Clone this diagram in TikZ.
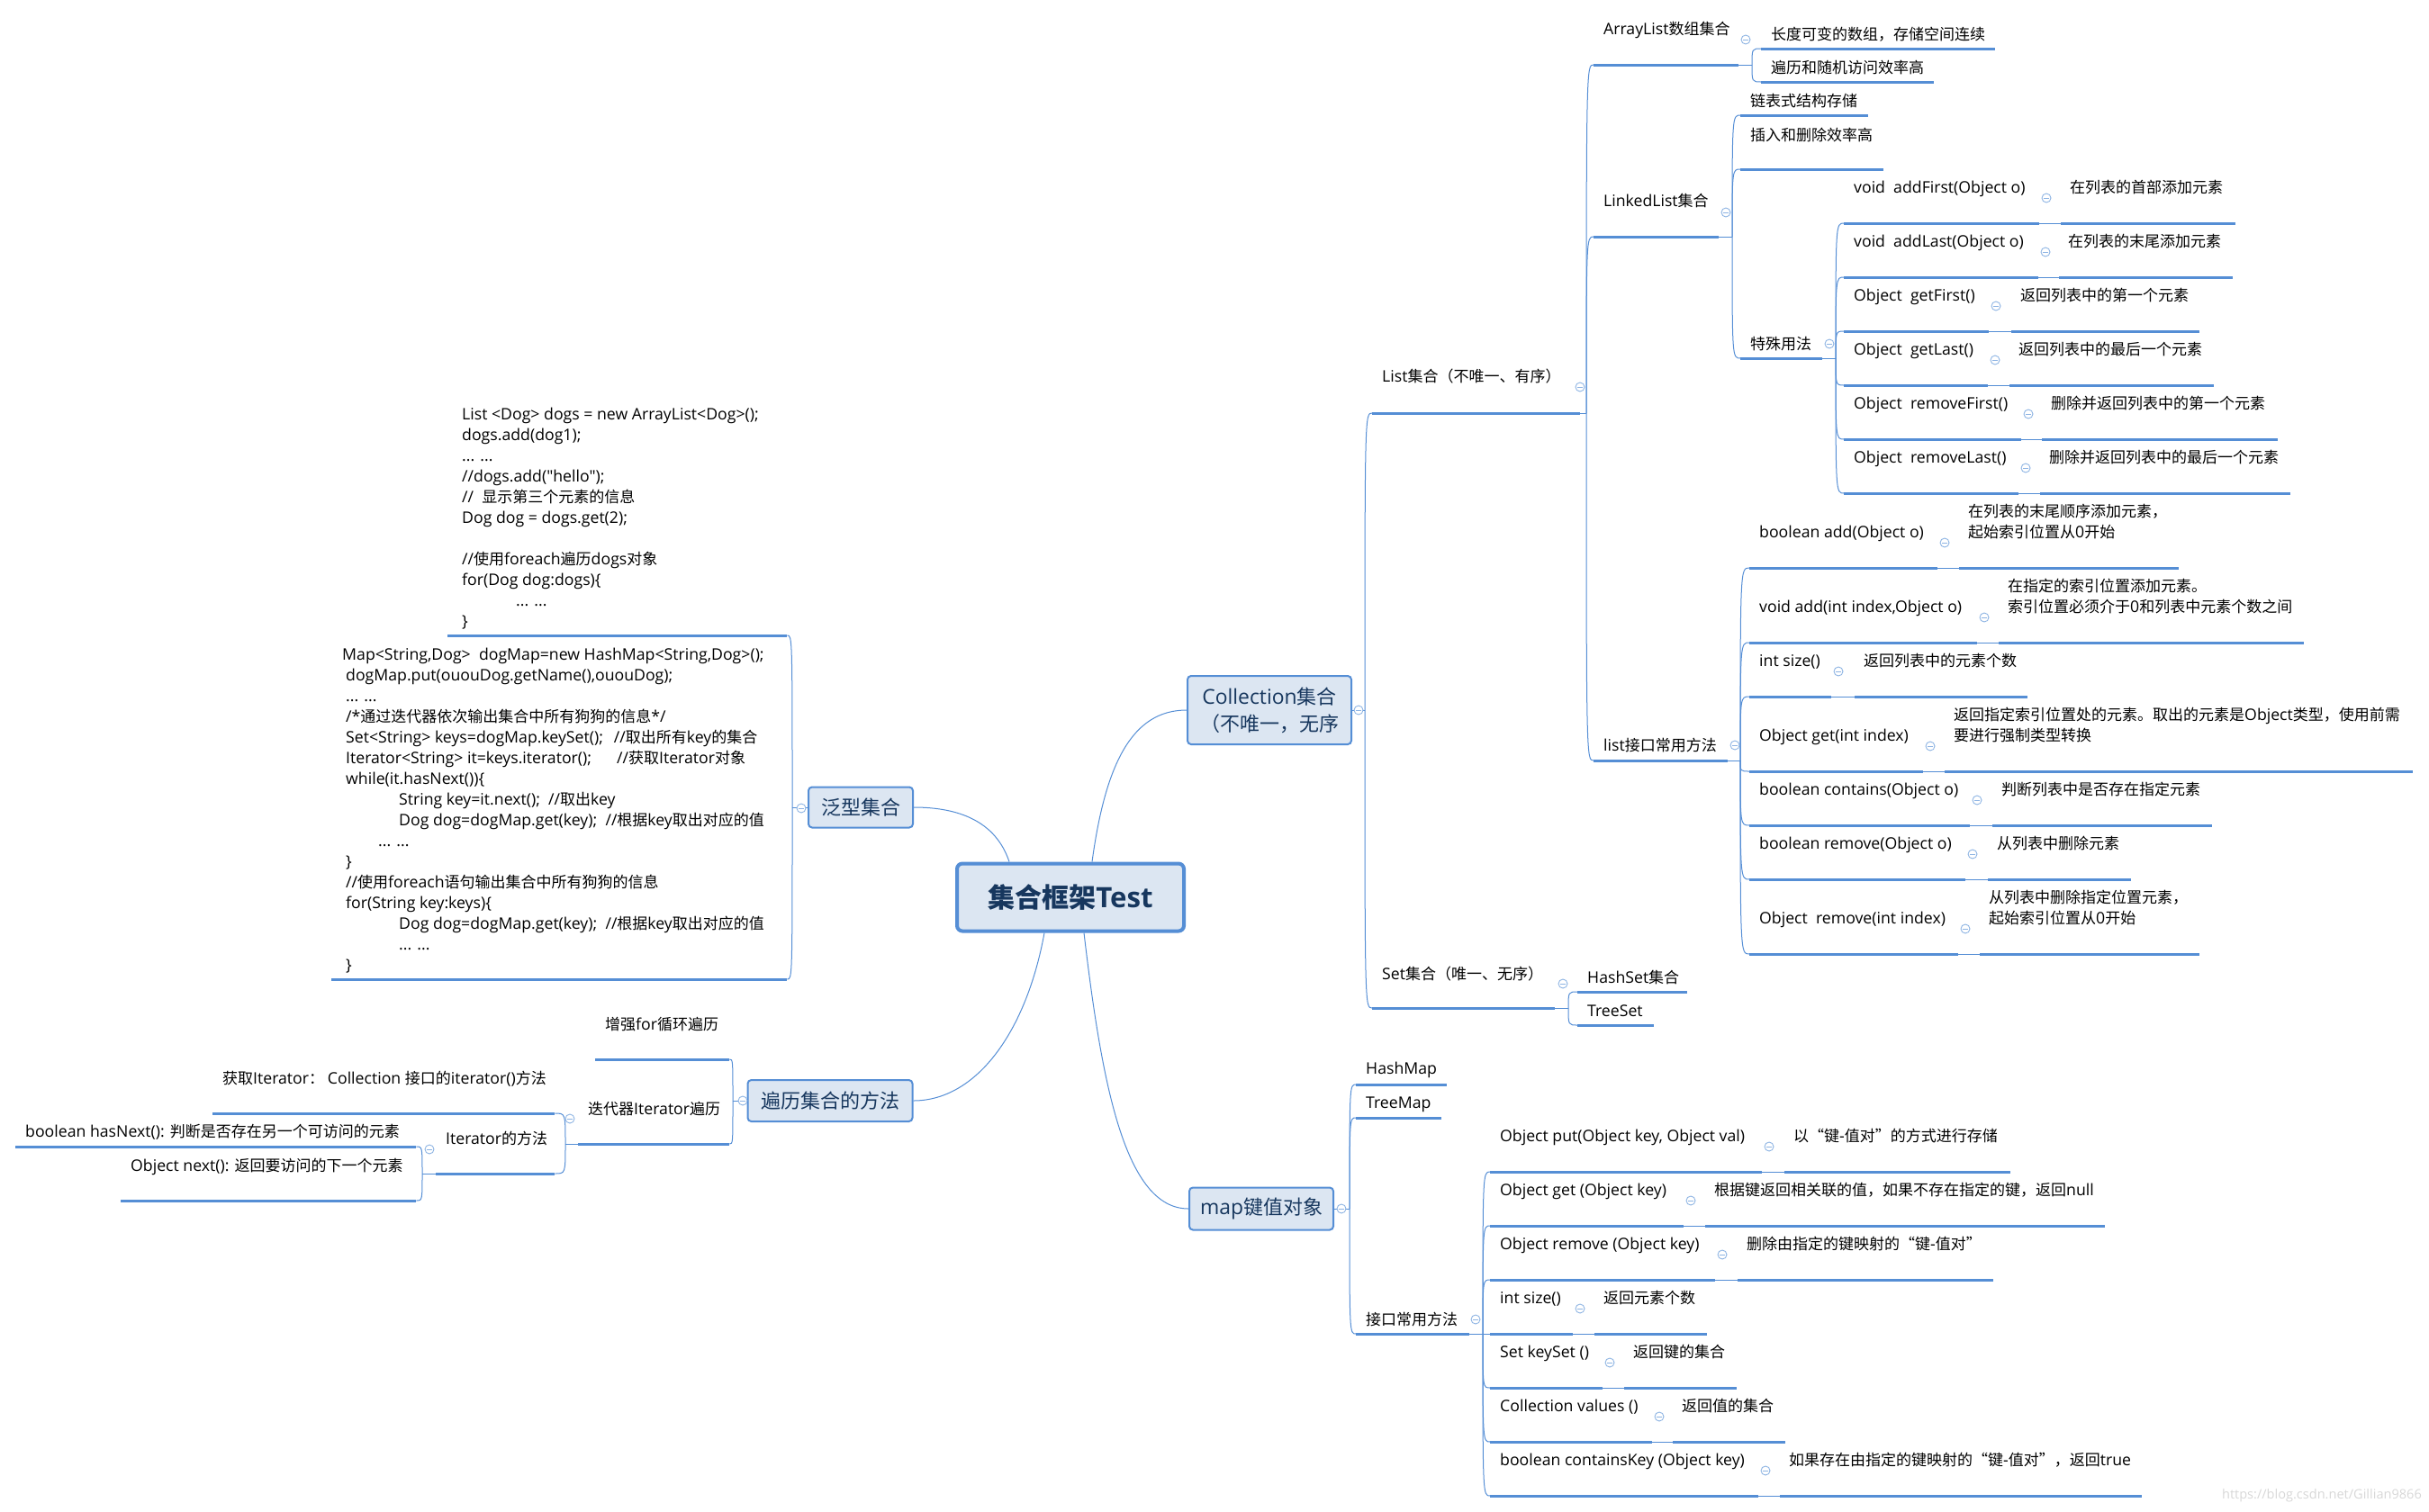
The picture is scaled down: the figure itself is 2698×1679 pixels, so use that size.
\documentclass[tikz,border=0pt]{standalone}
\usepackage{fontspec}
\usepackage{tikz}
\setmainfont{Open Sans}[Scale=1.04]
\newfontfamily\cjkfont{Noto Sans CJK SC}
\newfontfamily\latinfont{Open Sans}[Scale=1.04]

% switch to the CJK font for Chinese characters
\newXeTeXintercharclass\cjkclass
\newcount\cjkcode
\newcommand{\setcjkrange}[2]{%
  \cjkcode=#1
  \loop
    \XeTeXcharclass\cjkcode=\cjkclass
    \advance\cjkcode by 1
  \ifnum\cjkcode<#2 \repeat}
\setcjkrange{"3000}{"3040}
\setcjkrange{"4E00}{"A000}
\setcjkrange{"FF00}{"FFF0}
\XeTeXcharclass"201C=\cjkclass
\XeTeXcharclass"201D=\cjkclass
\XeTeXinterchartoks 0 \cjkclass={\cjkfont}
\XeTeXinterchartoks 4095 \cjkclass={\cjkfont}
\XeTeXinterchartoks \cjkclass 0={\latinfont}
\XeTeXinterchartoks 4095 0={\latinfont}
\XeTeXinterchartokenstate=1

\definecolor{lineblue}{RGB}{85,142,213}
\definecolor{boxfill}{RGB}{220,230,242}
\definecolor{boxtext}{RGB}{23,55,94}
\definecolor{foldblue}{RGB}{142,180,227}
\definecolor{markgray}{RGB}{215,215,215}

\tikzset{
  uline/.style={rectangle, fill=lineblue, inner sep=0pt, minimum height=3pt, anchor=west},
  link/.style={draw=lineblue, line width=1pt},
  topic/.style={anchor=west, inner sep=0pt, font=\fontsize{17}{23}\selectfont},
  mtext/.style={topic, anchor=south west, align=left, text depth=4pt},
  codetext/.style={anchor=north west, inner sep=0pt, align=left, font=\fontsize{17}{23}\selectfont},
  fold/.style={circle, draw=foldblue, line width=0.9pt, fill=white, minimum size=10pt, inner sep=0pt,
    path picture={\draw[foldblue, line width=0.9pt]
      ([xshift=-2.6pt]path picture bounding box.center) -- ([xshift=2.6pt]path picture bounding box.center);}},
  mainbox/.style={draw=lineblue, fill=boxfill, line width=2pt, rounded corners=4pt, text=boxtext,
    font=\fontsize{22}{30}\selectfont, inner sep=0pt, align=center},
  rootbox/.style={mainbox, line width=4pt, rounded corners=6pt, font=\fontsize{30}{36}\selectfont\bfseries},
}

% underlined topic: name, x start, x end, line y, text y, text
\newcommand{\topic}[6]{%
  \node[uline, minimum width={#3-#2}] (#1) at (#2,#4) {};
  \node[topic] (#1-t) at ({#2+11},#5) {#6};
}
% method with its description: name, x start, x end, desc start, desc end, line y, method, desc
\newcommand{\methodrow}[8]{%
  \node[uline, minimum width={#3-#2}] (#1) at (#2,#6) {};
  \node[uline, minimum width={#5-#4}] (#1-d) at (#4,#6) {};
  \node[mtext] (#1-t) at ({#2+11},{#6-29}) {#7};
  \node[mtext] (#1-dt) at ({#4+10},{#6-29}) {#8};
  \draw[link] (#1.east) -- (#1-d.west);
  \node[fold] (#1-f) at ({#3+8},{#6-28}) {};
}

\begin{document}
\begin{tikzpicture}[x=1pt, y=-1pt]
  \useasboundingbox (0,0) rectangle (2698,1679);

  % central topic and main branches
  \node[rootbox, minimum width=252pt, minimum height=75pt] (root) at (1189,997) {集合框架Test};
  \node[mainbox, minimum width=182pt, minimum height=76pt] (coll) at (1410,789) {Collection集合\\（不唯一，无序};
  \node[mainbox, minimum width=116pt, minimum height=45pt] (fx) at (956,897) {泛型集合};
  \node[mainbox, minimum width=183pt, minimum height=46pt] (bl) at (922,1223) {遍历集合的方法};
  \node[mainbox, minimum width=160pt, minimum height=47pt] (map) at (1401,1343) {map键值对象};

  \draw[link] ([xshift=24pt]root.north) .. controls +(15,-110) and +(-60,0) .. (coll.west);
  \draw[link] ([xshift=-68pt]root.north) .. controls +(-15,-45) and +(50,0) .. (fx.east);
  \draw[link] ([xshift=-29pt]root.south) .. controls +(-20,110) and +(70,0) .. (bl.east);
  \draw[link] ([xshift=15pt]root.south) .. controls +(20,170) and +(-70,0) .. (map.west);

  % Collection
  \topic{list}{1524}{1755}{459}{418}{List集合（不唯一、有序）}
  \topic{set}{1524}{1727}{1120}{1082}{Set集合（唯一、无序）}
  \topic{al}{1770}{1931}{72}{33}{ArrayList数组集合}
  \topic{al1}{1956}{2216}{54}{38}{长度可变的数组，存储空间连续}
  \topic{al2}{1956}{2148}{91}{75}{遍历和随机访问效率高}
  \topic{ll}{1770}{1909}{263}{223}{LinkedList集合}
  \topic{ll1}{1933}{2075}{128}{112}{链表式结构存储}
  \topic{ll2}{1933}{2092}{188}{150}{插入和删除效率高}
  \topic{ts}{1933}{2024}{398}{382}{特殊用法}
  \topic{li}{1770}{1919}{845}{828}{list接口常用方法}
  \topic{hs}{1752}{1874}{1102}{1086}{HashSet集合}
  \topic{tset}{1752}{1837}{1139}{1123}{TreeSet}

  % special methods of LinkedList
  \methodrow{m1}{2048}{2265}{2289}{2483}{248}{void\ \ addFirst(Object o)}{在列表的首部添加元素}
  \methodrow{m2}{2048}{2264}{2287}{2480}{308}{void\ \ addLast(Object o)}{在列表的末尾添加元素}
  \methodrow{m3}{2048}{2209}{2234}{2443}{368}{Object\ \ getFirst()}{返回列表中的第一个元素}
  \methodrow{m4}{2048}{2208}{2232}{2459}{428}{Object\ \ getLast()}{返回列表中的最后一个元素}
  \methodrow{m5}{2048}{2245}{2268}{2530}{488}{Object\ \ removeFirst()}{删除并返回列表中的第一个元素}
  \methodrow{m6}{2048}{2242}{2266}{2544}{548}{Object\ \ removeLast()}{删除并返回列表中的最后一个元素}

  % list interface methods
  \methodrow{a1}{1943}{2152}{2176}{2420}{631}{boolean add(Object o)}{在列表的末尾顺序添加元素，\\起始索引位置从0开始}
  \methodrow{a2}{1943}{2196}{2220}{2559}{714}{void add(int index,Object o)}{在指定的索引位置添加元素。\\索引位置必须介于0和列表中元素个数之间}
  \methodrow{a3}{1943}{2034}{2060}{2252}{774}{int size()}{返回列表中的元素个数}
  \methodrow{a4}{1943}{2136}{2160}{2680}{857}{Object get(int index)}{返回指定索引位置处的元素。取出的元素是Object类型，使用前需\\要进行强制类型转换}
  \methodrow{a5}{1943}{2188}{2213}{2457}{917}{boolean contains(Object o)}{判断列表中是否存在指定元素}
  \methodrow{a6}{1943}{2183}{2208}{2367}{977}{boolean remove(Object o)}{从列表中删除元素}
  \methodrow{a7}{1943}{2175}{2199}{2443}{1060}{Object\ \ remove(int index)}{从列表中删除指定位置元素，\\起始索引位置从0开始}

  % map
  \topic{hm}{1506}{1607}{1205}{1189}{HashMap}
  \topic{tm}{1506}{1601}{1242}{1227}{TreeMap}
  \topic{mi}{1506}{1632}{1482}{1466}{接口常用方法}
  \methodrow{p1}{1655}{1957}{1982}{2233}{1302}{Object put(Object key, Object val)}{以“键-值对”的方式进行存储}
  \methodrow{p2}{1655}{1870}{1894}{2338}{1362}{Object get (Object key)}{根据键返回相关联的值，如果不存在指定的键，返回null}
  \methodrow{p3}{1655}{1905}{1930}{2214}{1422}{Object remove (Object key)}{删除由指定的键映射的“键-值对”}
  \methodrow{p4}{1655}{1747}{1771}{1896}{1482}{int size()}{返回元素个数}
  \methodrow{p5}{1655}{1780}{1804}{1929}{1542}{Set keySet ()}{返回键的集合}
  \methodrow{p6}{1655}{1835}{1858}{1983}{1602}{Collection values ()}{返回值的集合}
  \methodrow{p7}{1655}{1953}{1977}{2379}{1662}{boolean containsKey (Object key)}{如果存在由指定的键映射的“键-值对”，返回true}

  % generic collections: code samples
  \node[uline, minimum width={874-497}] (code1) at (497,706) {};
  \node[codetext] (code1-t) at (513,453) {List <Dog> dogs = new ArrayList<Dog>();\\
    dogs.add(dog1);\\
    ... ...\\
    //dogs.add("hello");\\
    //\ \ 显示第三个元素的信息\\
    Dog dog = dogs.get(2);\\[23pt]
    //使用foreach遍历dogs对象\\
    for(Dog dog:dogs)\{\\
    \hspace*{60pt}... ...\\
    \}};
  \node[uline, minimum width={874-368}] (code2) at (368,1088) {};
  \node[codetext] (code2-t) at (384,720) {\hspace*{-4pt}Map<String,Dog>\ \ dogMap=new HashMap<String,Dog>();\\
    dogMap.put(ououDog.getName(),ououDog);\\
    ... ...\\
    /*通过迭代器依次输出集合中所有狗狗的信息*/\\
    Set<String>\ keys=dogMap.keySet();\hspace{12pt}//取出所有key的集合\\
    Iterator<String>\ it=keys.iterator();\hspace{28pt}//获取Iterator对象\\
    while(it.hasNext())\{\\
    \hspace*{59pt}String key=it.next();\ \ //取出key\\
    \hspace*{59pt}Dog dog=dogMap.get(key);\ \ //根据key取出对应的值\\
    \hspace*{36pt}... ...\\
    \}\\
    //使用foreach语句输出集合中所有狗狗的信息\\
    for(String key:keys)\{\\
    \hspace*{59pt}Dog dog=dogMap.get(key);\ \ //根据key取出对应的值\\
    \hspace*{59pt}... ...\\
    \}};

  % ways of iterating
  \topic{zq}{661}{810}{1177}{1138}{增强for循环遍历}
  \topic{dd}{642}{810}{1271}{1232}{迭代器Iterator遍历}
  \topic{hq}{236}{616}{1237}{1199}{获取Iterator： Collection 接口的iterator()方法}
  \topic{im}{484}{616}{1304}{1265}{Iterator的方法}
  \topic{hn}{17}{462}{1274}{1258}{boolean hasNext(): 判断是否存在另一个可访问的元素}
  \topic{nx}{134}{462}{1334}{1296}{Object next(): 返回要访问的下一个元素}

  % junctions of the brackets
  \coordinate (coll-j) at (1516,789);
  \coordinate (list-j) at (1762,459);
  \coordinate (al-j) at (1946,72);
  \coordinate (ll-j) at (1924,263);
  \coordinate (ts-j) at (2039,398);
  \coordinate (li-j) at (1933,845);
  \coordinate (set-j) at (1742,1120);
  \coordinate (map-j) at (1499,1343);
  \coordinate (mi-j) at (1647,1482);
  \coordinate (fx-j) at (880,897);
  \coordinate (bl-j) at (814,1223);
  \coordinate (dd-j) at (628,1271);
  \coordinate (im-j) at (469,1304);

  % brackets to the right
  \draw[link] (coll.east) -- (coll-j);
  \foreach \c in {list,set} \draw[link] (coll-j) .. controls (coll-j |- \c.west) .. (\c.west);
  \draw[link] (list.east) -- (list-j);
  \foreach \c in {al,ll,li} \draw[link] (list-j) .. controls (list-j |- \c.west) .. (\c.west);
  \draw[link] (al.east) -- (al-j);
  \foreach \c in {al1,al2} \draw[link] (al-j) .. controls (al-j |- \c.west) .. (\c.west);
  \draw[link] (ll.east) -- (ll-j);
  \foreach \c in {ll1,ll2,ts} \draw[link] (ll-j) .. controls (ll-j |- \c.west) .. (\c.west);
  \draw[link] (ts.east) -- (ts-j);
  \foreach \c in {m1,m2,m3,m4,m5,m6} \draw[link] (ts-j) .. controls (ts-j |- \c.west) .. (\c.west);
  \draw[link] (li.east) -- (li-j);
  \foreach \c in {a1,a2,a3,a4,a5,a6,a7} \draw[link] (li-j) .. controls (li-j |- \c.west) .. (\c.west);
  \draw[link] (set.east) -- (set-j);
  \foreach \c in {hs,tset} \draw[link] (set-j) .. controls (set-j |- \c.west) .. (\c.west);
  \draw[link] (map.east) -- (map-j);
  \foreach \c in {hm,tm,mi} \draw[link] (map-j) .. controls (map-j |- \c.west) .. (\c.west);
  \draw[link] (mi.east) -- (mi-j);
  \foreach \c in {p1,p2,p3,p4,p5,p6,p7} \draw[link] (mi-j) .. controls (mi-j |- \c.west) .. (\c.west);

  % brackets to the left
  \draw[link] (fx.west) -- (fx-j);
  \foreach \c in {code1,code2} \draw[link] (fx-j) .. controls (fx-j |- \c.east) .. (\c.east);
  \draw[link] (bl.west) -- (bl-j);
  \foreach \c in {zq,dd} \draw[link] (bl-j) .. controls (bl-j |- \c.east) .. (\c.east);
  \draw[link] (dd.west) -- (dd-j);
  \foreach \c in {hq,im} \draw[link] (dd-j) .. controls (dd-j |- \c.east) .. (\c.east);
  \draw[link] (im.west) -- (im-j);
  \foreach \c in {hn,nx} \draw[link] (im-j) .. controls (im-j |- \c.east) .. (\c.east);

  % fold markers
  \node[fold] (coll-f) at (1509,789) {};
  \node[fold] (list-f) at (1755,430) {};
  \node[fold] (al-f) at (1939,44) {};
  \node[fold] (ll-f) at (1917,236) {};
  \node[fold] (ts-f) at (2032,382) {};
  \node[fold] (li-f) at (1927,828) {};
  \node[fold] (set-f) at (1736,1093) {};
  \node[fold] (map-f) at (1490,1343) {};
  \node[fold] (mi-f) at (1639,1466) {};
  \node[fold] (fx-f) at (890,898) {};
  \node[fold] (bl-f) at (825,1223) {};
  \node[fold] (dd-f) at (633,1243) {};
  \node[fold] (im-f) at (477,1277) {};

  \node[anchor=east, inner sep=0pt, text=markgray, font=\fontsize{14}{16}\selectfont] (mark) at (2690,1662) {https://blog.csdn.net/Gillian9866};
\end{tikzpicture}
\end{document}
